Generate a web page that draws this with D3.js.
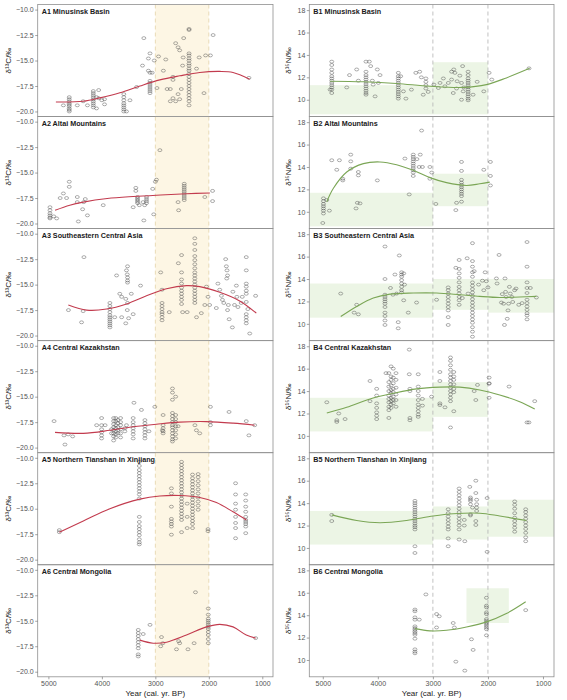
<!DOCTYPE html>
<html>
<head>
<meta charset="utf-8">
<script src="https://cdn.jsdelivr.net/npm/d3@7"></script>
<style>
  body { margin: 0; background: #fff; }
  svg { font-family: "Liberation Sans", Arial, sans-serif; }
</style>
</head>
<body>
<svg id="chart"></svg>
<script>
const width = 567, height = 700;

const regions = ["Minusinsk Basin", "Altai Mountains", "Southeastern Central Asia",
  "Central Kazakhstan", "Northern Tianshan in Xinjiang", "Central Mongolia"];
const xTicks = [5000, 4000, 3000, 2000, 1000];
const cTicks = [-20, -17.5, -15, -12.5, -10];
const nTicks = [10, 12, 14, 16, 18];
const periodBounds = [3000, 2000];

// δ13C: [year, [values at that year]]
const a1 = [[4720,[-19.4]],[4610,[-18.6,-18.8,-19.0,-19.2,-19.35,-19.5,-19.7,-19.85,-20.0]],[4460,[-19.4]],
  [4350,[-19.0]],[4270,[-19.4]],[4160,[-18.0,-18.2,-18.4,-18.6,-18.8,-19.0,-19.2,-19.4,-19.6]],[4100,[-19.7,-18.6]],
  [4060,[-17.9,-18.7]],[4000,[-18.9]],[3950,[-19.3,-18.8]],[3590,[-18.3,-18.6,-18.9,-19.2,-19.4,-19.6,-19.8,-20.0]],
  [3540,[-20.0]],[3475,[-18.9]],[3350,[-17.6]],[3240,[-15.5]],[3215,[-12.8]],[3130,[-16.0,-14.8]],
  [3100,[-14.3,-16.2,-17.0,-17.2,-17.4,-17.6,-17.8,-18.0,-18.2]],[3060,[-16.2]],[3020,[-15.0]],[2940,[-14.6]],
  [2970,[-17.7]],[2805,[-14.9]],[2850,[-16.0]],[2780,[-17.8]],[2720,[-17.8,-19.0]],[2670,[-18.7,-16.6,-16.9]],
  [2620,[-13.3,-19.0]],[2575,[-13.7,-18.3]],[2545,[-14.0,-18.8]],[2515,[-17.8]],[2490,[-15.5]],[2470,[-12.8]],
  [2480,[-14.7]],[2370,[-11.9,-12.0,-14.3,-14.5,-14.8,-15.0,-15.3,-15.5,-15.8,-16.0,-16.3,-16.6,-16.9,-17.2,-17.5,-17.8,-18.1,-18.4,-18.7,-19.0,-19.4]],
  [2230,[-15.8]],[2180,[-14.7]],[2090,[-18.2]],[2060,[-14.5]],[1970,[-14.5]],[1920,[-12.5]],[1250,[-16.7]]];
const a2 = [[4970,[-18.4,-18.7,-19.0,-19.2,-19.4,-19.5]],[4900,[-19.3]],[4845,[-19.5]],[4780,[-17.5]],[4720,[-17.05]],
  [4660,[-17.5]],[4610,[-15.9,-16.4]],[4460,[-17.4,-17.9]],[4440,[-19.8]],[4360,[-18.6]],[4340,[-17.9]],[4310,[-17.6]],
  [4270,[-19.2]],[3975,[-18.2]],[3415,[-18.4]],[3365,[-16.5,-16.8]],[3333,[-17.4,-17.55,-17.7,-17.85,-18.0]],
  [3300,[-18.2]],[3230,[-17.9]],[3215,[-19.7]],[3200,[-18.2]],[3165,[-17.4,-17.6,-17.8,-18.0]],[3050,[-16.6]],
  [3030,[-19.1]],[3000,[-15.9]],[2980,[-15.7]],[2915,[-12.8]],[2575,[-17.9]],[2565,[-18.7]],
  [2460,[-16.1,-16.3,-16.5,-16.7,-16.9,-17.1,-17.3,-17.5,-17.7]],[2075,[-17.4]],[1930,[-16.8,-17.8]]];
const a3 = [[4625,[-17.5]],[4380,[-18.7]],[4350,[-17.6]],[4335,[-12.3]],
  [3850,[-16.8,-17.1,-17.4,-17.7,-18.0,-18.2,-18.4,-18.6,-18.8,-19.0,-19.2]],[3760,[-18.2]],[3725,[-14.1]],
  [3665,[-15.9]],[3630,[-16.2,-18.2]],[3553,[-18.8,-16.4]],[3540,[-13.6]],[3525,[-14.0,-17.5]],
  [3520,[-13.2,-14.3,-14.6,-14.8,-16.8]],[3500,[-18.3]],[3450,[-15.9]],[3415,[-17.9]],[3277,[-15.1]],[2900,[-13.8]],
  [2875,[-15.5,-16.8,-17.1,-17.4,-17.7,-17.9,-18.2,-18.5]],[2740,[-17.7]],[2570,[-12.9]],
  [2510,[-12.1,-13.8,-14.5,-14.9,-15.3,-15.6,-15.9,-16.2,-16.5,-16.9]],[2490,[-17.7]],[2405,[-17.7]],
  [2262,[-10.45,-11.0,-11.6,-12.2,-12.6,-13.0,-13.4,-13.8,-14.1,-14.4,-14.7,-15.0,-15.3,-15.6,-15.9,-16.2,-16.5,-16.8]],
  [2230,[-18.2]],[2140,[-17.8]],[2075,[-17.0]],[2045,[-15.2]],[2015,[-16.2]],[1985,[-17.0]],[1860,[-17.3]],
  [1830,[-14.9]],[1796,[-15.5]],[1765,[-16.1]],[1745,[-16.5]],[1720,[-16.8]],[1685,[-12.5]],[1672,[-13.2]],
  [1660,[-13.6]],[1650,[-14.1,-17.5]],[1665,[-14.4]],[1635,[-17.0]],[1620,[-18.4]],[1560,[-19.2]],[1550,[-15.7]],
  [1520,[-17.0]],[1485,[-15.1]],[1475,[-16.2]],[1455,[-17.2]],[1395,[-16.8]],[1375,[-16.2]],
  [1300,[-12.3,-13.6,-14.9,-15.2,-15.6,-15.9,-16.7,-17.9,-18.2,-18.5,-18.8]],[1270,[-17.4]],[1235,[-19.8]],[1125,[-16.1]]];
const a4 = [[4894,[-17.4]],[4708,[-18.8]],[4690,[-19.7]],[4630,[-18.7]],[4546,[-18.9]],[4098,[-17.8]],
  [4005,[-17.1,-17.8,-18.2,-18.5,-18.8,-19.1]],[3940,[-17.8]],[3820,[-18.2,-18.6]],
  [3780,[-17.1,-17.4,-17.7,-18.0,-18.3,-18.6,-18.9,-19.3]],[3740,[-17.1,-17.4,-17.8,-18.1,-18.4,-18.7,-19.0]],
  [3700,[-17.3,-17.6,-18.0,-18.3,-18.6]],[3650,[-17.1,-17.5,-17.8,-18.2,-18.6,-19.0]],[3570,[-18.1,-18.4]],
  [3540,[-17.8]],[3415,[-17.1,-17.5,-17.8,-18.1,-18.4,-18.7,-19.1]],[3400,[-15.6]],[3260,[-16.3]],
  [3195,[-17.3,-17.6,-17.9,-18.2,-18.5,-18.8,-19.1]],[3120,[-18.4]],[3010,[-16.0]],
  [2855,[-16.8,-17.8,-18.1,-18.4,-18.6]],[2868,[-18.3]],
  [2680,[-14.2,-14.6,-15.3,-16.6,-16.9,-17.2,-17.5,-17.8,-18.0,-18.3,-18.6,-18.9,-19.2,-19.4]],
  [2620,[-15.0,-16.8,-17.2,-17.5,-17.9,-18.3,-18.7,-19.1]],[2575,[-17.9]],[2260,[-17.8]],[2232,[-18.3]],
  [2170,[-18.6]],[1970,[-16.0,-17.5,-17.8]],[1622,[-16.5]],[1300,[-17.4]],[1250,[-18.8]],[1143,[-17.8]]];
const a5 = [[4795,[-17.1,-17.3]],
  [3300,[-10.4,-10.8,-11.2,-11.5,-11.8,-12.1,-12.4,-12.7,-13.0,-13.3,-13.6,-14.0,-15.8,-16.3,-16.7,-17.0,-17.3,-17.6,-18.0,-18.3,-18.5]],
  [2700,[-13.0,-13.5,-14.8,-16.0,-16.25,-16.5,-16.75,-17.55]],
  [2510,[-10.4,-10.7,-11.0,-11.3,-11.6,-11.9,-12.2,-12.5,-12.8,-13.1,-13.4,-13.7,-14.0,-14.3,-14.6,-14.9,-15.2,-15.5,-15.8,-16.1,-17.3]],
  [2405,[-14.5,-15.8,-16.9]],
  [2305,[-11.65,-12.0,-12.3,-12.6,-12.9,-13.2,-13.5,-13.8,-14.1,-14.4,-14.7,-15.0,-15.3,-15.6,-15.9,-16.2,-16.5,-16.9]],
  [2200,[-11.6,-11.9,-12.3,-12.7,-13.1,-13.5,-13.9,-14.3,-14.7,-15.1]],[2015,[-17.0,-17.2]],
  [1500,[-12.5,-13.6,-14.5,-15.1,-15.8,-16.4,-16.9,-17.9]],
  [1310,[-13.6,-14.2,-14.8,-15.3,-15.8,-16.1,-16.3,-16.5,-16.75,-17.4]]];
const a6 = [[3320,[-15.9,-16.2,-16.5,-16.8,-17.1,-17.4,-17.7,-18.3,-18.5]],[3227,[-16.3]],[3100,[-15.4]],
  [2885,[-16.6]],[2900,[-17.5]],[2860,[-17.2]],[2605,[-17.8]],[2565,[-17.0]],[2545,[-17.2]],[2390,[-17.8]],
  [2275,[-17.2]],[2250,[-12.2]],[2010,[-13.8,-14.4,-14.8,-15.0,-15.2,-15.4,-15.6,-15.8,-16.1,-16.4,-16.8,-17.2]],
  [1125,[-16.7]]];

// δ15N: [year, [values at that year]]
const b1 = [[4867,[10.9]],[4837,[13.4,13.1,12.7,12.4,12.1,11.9,11.7,11.5,11.3,11.1,10.9,10.6]],[4565,[11.1]],
  [4515,[12.2]],[4384,[12.7]],[4354,[11.7]],[4215,[13.4,12.5,12.2,12.0,11.8,11.6,11.4,11.2,11.0,10.8,10.6,10.45]],
  [4155,[13.4]],[4130,[13.0]],[4100,[11.7]],[4085,[11.35]],[4050,[10.3]],[4010,[12.7]],[3990,[11.5]],[3960,[12.2]],
  [3628,[12.4,12.1,11.9,11.7,11.5,11.3,11.1,10.9,10.7,10.5,10.3,10.1]],[3585,[12.1]],[3535,[10.75]],[3490,[10.1]],
  [3390,[10.9]],[3310,[12.4]],[3240,[12.5]],[3210,[12.0]],[3127,[11.9,11.6,11.3,11.0]],[3175,[10.45]],[3085,[10.7]],
  [2982,[11.35]],[2900,[11.05]],[2870,[11.5]],[2810,[11.9]],[2782,[11.2]],[2720,[11.5]],[2660,[11.8,12.5]],
  [2630,[10.6]],[2620,[12.7]],[2600,[12.4]],[2570,[11.0]],[2560,[11.65]],[2510,[12.15]],[2480,[11.5,10.0]],
  [2460,[13.0]],[2450,[10.75]],[2440,[11.1]],[2360,[12.5,12.2,11.9,11.7,11.5,11.3,11.1,10.9,10.7,10.5,10.3,10.1,9.95]],
  [2270,[10.45]],[2196,[11.6]],[2075,[10.75]],[1979,[12.4]],[1930,[11.8]],[1254,[12.8]]];
const b2 = [[5000,[9.0]],[4988,[11.2,10.95,10.7,10.5,10.3,10.1,9.85]],[4927,[11.05]],[4880,[10.1]],[4837,[14.6]],
  [4746,[13.75]],[4698,[14.6]],[4637,[12.8,12.95]],[4492,[15.1,14.5,13.85]],[4396,[10.3]],[4372,[10.8]],
  [4354,[13.55,13.25]],[4324,[10.75]],[4009,[12.8]],[3508,[14.75]],[3430,[11.55]],
  [3357,[15.1,14.9,14.7,14.5,14.3,14.1,13.9,13.7,13.5,13.2]],[3290,[14.7]],[3250,[14.0]],[3230,[15.1]],
  [3205,[17.25]],[3190,[14.0]],[3054,[14.0,12.95]],[3020,[13.5]],[2946,[10.7]],[2583,[10.15]],[2570,[10.8]],
  [2480,[14.45,13.65,12.85,12.6,12.4,12.2,12.0,11.8,11.6,11.4,10.9]],[2075,[13.75]],[1955,[14.45,13.2,12.35]]];
const b3 = [[4674,[12.7]],[4430,[11.0]],[4384,[11.7]],[4354,[10.85]],
  [3870,[12.6,12.4,12.2,12.0,11.8,11.5,11.0,10.7,10.3,9.9,14.0,16.9]],[3770,[13.2]],[3725,[12.6]],[3689,[14.4]],
  [3660,[12.7]],[3630,[10.15,9.6]],[3610,[16.1]],[3568,[14.6,14.4,14.2,13.9,13.6,13.3,13.0,12.8]],
  [3530,[12.1,14.5]],[3515,[13.5]],[3447,[11.0]],[3296,[11.9]],[2933,[12.15]],
  [2722,[13.25,13.0,12.7,12.4,12.1,11.8,11.5,11.2,10.6,9.9]],[2583,[15.0]],
  [2523,[15.7,14.9,14.5,14.1,13.7,13.3,13.0,12.7,12.4,12.1,11.7]],[2465,[12.3]],[2378,[15.85]],[2360,[12.7]],
  [2281,[17.2,15.6,15.1,14.6,14.2,13.7,13.4,13.1,12.8,12.5,12.2,11.9,11.6,11.3,11.0,10.7,10.4,10.1,9.7,9.3,8.85]],
  [2250,[14.7]],[2170,[13.5]],[2100,[13.85]],[2075,[13.0]],[2051,[14.6]],[2030,[13.8]],[2000,[13.25]],
  [1846,[14.05]],[1834,[13.6]],[1798,[16.15]],[1755,[11.9]],[1740,[12.65]],[1715,[11.8]],[1700,[9.9]],
  [1690,[14.05]],[1680,[12.85]],[1670,[12.4]],[1650,[10.45]],[1635,[11.2]],[1625,[11.8]],[1610,[13.3]],
  [1595,[12.7]],[1565,[12.4]],[1550,[11.95]],[1515,[13.0]],[1490,[13.15]],[1440,[11.7]],[1380,[11.85]],
  [1290,[17.3,15.1,13.7,13.2,12.75,12.15,11.85,11.55,11.25,10.95,10.75,10.4]],[1230,[13.2]],[1120,[12.35]]];
const b4 = [[4927,[13.0]],[4746,[11.4,11.25]],[4710,[12.0]],[4595,[11.5]],[4142,[14.9,13.1]],
  [4021,[14.2,13.6,12.9,12.5,12.1,11.8,11.5]],[3852,[15.6]],[3800,[15.6,14.8,14.4,14.0,13.6,13.3,13.0,12.6,12.3,11.6]],
  [3760,[16.2,15.3,15.0,14.5,14.1,13.8,13.4,13.1,12.8,12.5]],[3720,[16.0,15.2,14.7,14.2,13.9,13.5,13.2,12.9]],
  [3670,[15.6,15.0,14.3,13.7,13.2,12.6]],[3429,[17.7,15.5]],[3417,[14.2,14.0,11.6,11.4]],
  [3266,[15.5,14.4,14.0,13.6,13.2,12.8,12.5,12.2,11.9,11.7]],[3190,[13.3,12.7]],[3024,[13.5]],
  [2873,[15.7,14.9,12.9,12.75]],[2780,[12.55]],
  [2680,[17.0,16.7,16.3,15.9,15.5,15.2,14.9,14.6,14.3,14.0,13.7,13.4,13.1,10.75]],
  [2620,[15.7,15.3,15.0,14.6,14.2,13.9,12.2]],[2250,[14.0]],[2220,[13.2]],[2190,[14.55]],
  [1979,[15.2,14.7,14.65,13.4]],[1616,[14.4]],[1290,[11.2]],[1255,[11.2]],[1150,[13.1]]];
const b5 = [[4837,[12.95,12.4]],
  [3326,[14.2,14.0,13.8,13.6,13.4,13.2,13.0,12.8,12.6,12.4,12.2,12.0,11.85,11.65,10.15,9.55]],
  [2722,[13.45,13.1,12.8,12.5,12.2,11.9,11.65,10.85,10.15]],
  [2523,[15.3,15.0,14.7,14.4,14.1,13.8,13.5,13.2,12.9,12.6,12.3,12.0,11.65,10.75]],
  [2430,[12.5,12.0]],[2420,[10.6]],[2330,[15.45]],[2317,[14.5,14.35,14.2,13.9,13.0,12.9]],[2280,[13.6]],
  [2220,[16.0,14.9,12.4,12.05]],[2205,[14.3,13.9,13.6,13.3]],[2015,[14.45,9.65]],
  [1514,[14.15,13.85,13.5,13.1,12.7,12.4,12.1,11.8,11.45]],
  [1314,[13.45,13.2,12.9,12.6,12.3,12.0,11.7,11.35,10.95,10.6]]];
const b6 = [[3326,[14.5,14.35,13.8,13.6,13.0,12.85,12.7,12.55,12.4,12.25,11.9,10.95,10.75,10.6]],[3248,[13.6]],
  [3127,[15.85]],[2933,[12.9,14.1]],[2885,[13.9]],[2631,[13.3]],[2610,[12.9]],[2583,[9.85]],[2420,[9.05]],
  [2299,[11.85]],[2269,[10.9]],[2027,[15.55,14.85,14.7,14.25,14.1,13.65,13.5,13.35,13.2,13.05,12.9,12.75,12.2]],
  [1314,[14.45]]];

// fitted trend lines: [year, value]
const a1Fit = [[4860,-19.07],[4347,-19.0],[4036,-18.67],[3663,-18.17],[3289,-17.5],[2916,-16.9],[2543,-16.5],[2170,-16.17],[1796,-16.07],[1547,-16.17],[1236,-16.83]];
const a2Fit = [[4875,-18.7],[4600,-18.2],[4347,-17.9],[3900,-17.55],[3415,-17.35],[2900,-17.2],[2418,-17.08],[1980,-17.0]];
const a3Fit = [[4627,-17.0],[4285,-17.5],[3911,-17.4],[3538,-16.9],[3165,-16.1],[2792,-15.4],[2418,-15.1],[2170,-15.2],[1796,-15.75],[1423,-16.6],[1112,-17.8]];
const a4Fit = [[4876,-18.5],[4347,-18.6],[3850,-18.3],[3414,-17.95],[2978,-17.7],[2543,-17.5],[2045,-17.45],[1547,-17.6],[1143,-17.8]];
const a5Fit = [[4795,-17.3],[4347,-16.2],[3850,-15.0],[3290,-14.06],[2916,-13.75],[2543,-13.7],[2170,-13.9],[1858,-14.4],[1547,-15.3],[1298,-16.1]];
const a6Fit = [[3290,-16.9],[3040,-17.2],[2790,-17.1],[2418,-16.4],[2045,-15.6],[1796,-15.35],[1547,-15.6],[1300,-16.4],[1125,-16.7]];
const b1Fit = [[4867,11.65],[4263,11.6],[3659,11.45],[3054,11.2],[2450,11.1],[2027,11.35],[1665,11.95],[1242,12.8]];
const b2Fit = [[4927,10.9],[4807,12.1],[4565,13.55],[4263,14.3],[3961,14.45],[3659,14.2],[3357,13.7],[3054,13.05],[2752,12.6],[2390,12.35],[2148,12.5],[1967,12.65]];
const b3Fit = [[4674,10.65],[4384,11.55],[4082,12.3],[3780,12.65],[3357,12.75],[2933,12.75],[2510,12.6],[2148,12.45],[1785,12.35],[1423,12.4],[1120,12.45]];
const b4Fit = [[4927,12.05],[4565,12.55],[4142,13.3],[3719,13.8],[3296,14.2],[2873,14.35],[2510,14.35],[2148,14.1],[1785,13.65],[1423,13.05],[1150,12.4]];
const b5Fit = [[4837,12.95],[4384,12.45],[3961,12.25],[3477,12.45],[2994,12.85],[2631,13.05],[2148,13.1],[1785,12.85],[1302,12.45]];
const b6Fit = [[3326,12.8],[3054,12.6],[2752,12.65],[2390,12.95],[2027,13.4],[1665,14.15],[1314,15.2]];

// shaded δ15N ranges: [yearFrom, yearTo, low, high]
const b1Ranges = [[5400,3000,8.7,11.3],[3000,2000,8.7,13.35]];
const b2Ranges = [[5400,3000,8.7,11.7],[3000,2000,10.5,13.4]];
const b3Ranges = [[5400,3000,10.55,13.6],[3000,2000,11.25,14.0],[2000,600,11.0,14.0]];
const b4Ranges = [[5400,3000,10.4,13.4],[3000,2000,11.7,14.8]];
const b5Ranges = [[5400,3000,10.3,13.3],[3000,2000,10.75,13.7],[2000,600,11.0,14.3]];
const b6Ranges = [[2390,1620,13.3,16.4]];

const cPoints = [a1, a2, a3, a4, a5, a6];
const nPoints = [b1, b2, b3, b4, b5, b6];
const cFits = [a1Fit, a2Fit, a3Fit, a4Fit, a5Fit, a6Fit];
const nFits = [b1Fit, b2Fit, b3Fit, b4Fit, b5Fit, b6Fit];
const nRanges = [b1Ranges, b2Ranges, b3Ranges, b4Ranges, b5Ranges, b6Ranges];

const rowTop = 4.5, rowH = 112.05;

const svg = d3.select('#chart').attr('width', width).attr('height', height);

const columns = [
  { key: 'A', x: d3.scaleLinear().domain([5200, 800]).range([37.7, 273]),
    yDomain: [-20.5, -9.5], ticks: cTicks, fmt: d3.format('.1f'),
    points: cPoints, fits: cFits, ranges: null, line: '#c23b4e',
    title: 'δ¹³C/‰', titleX: 9, labelX: 34 },
  { key: 'B', x: d3.scaleLinear().domain([5245, 800]).range([309.3, 554]),
    yDomain: [8.5, 18.5], ticks: nTicks, fmt: d3.format('d'),
    points: nPoints, fits: nFits, ranges: nRanges, line: '#7ba656',
    title: 'δ¹⁵N/‰', titleX: 289, labelX: 306 }
];

columns.forEach(col => {
  const [x0, x1] = col.x.range();
  regions.forEach((name, i) => {
    const top = rowTop + i * rowH, bottom = top + rowH;
    const y = d3.scaleLinear().domain(col.yDomain).range([bottom, top]);
    const g = svg.append('g');
    const clamp = v => Math.max(x0, Math.min(x1, v));

    if (col.key === 'A') {
      g.append('rect')
        .attr('x', col.x(periodBounds[0])).attr('y', top)
        .attr('width', col.x(periodBounds[1]) - col.x(periodBounds[0]))
        .attr('height', rowH)
        .attr('fill', '#fdf6e4');
    } else {
      g.selectAll('rect.range').data(col.ranges[i]).enter().append('rect')
        .attr('class', 'range')
        .attr('x', d => clamp(col.x(d[0])))
        .attr('width', d => clamp(col.x(d[1])) - clamp(col.x(d[0])))
        .attr('y', d => Math.max(top, y(d[3])))
        .attr('height', d => Math.min(bottom, y(d[2])) - Math.max(top, y(d[3])))
        .attr('fill', '#e6f1dc')
        .attr('fill-opacity', 0.75);
    }

    g.selectAll('line.period').data(periodBounds).enter().append('line')
      .attr('x1', d => col.x(d)).attr('x2', d => col.x(d))
      .attr('y1', top).attr('y2', bottom)
      .attr('stroke', col.key === 'A' ? '#e3d3a8' : '#b3b3b3')
      .attr('stroke-width', 0.8)
      .attr('stroke-dasharray', '4,3');

    // flatten [year, [values]] groups
    const pts = [];
    col.points[i].forEach(([yr, vals]) => vals.forEach(v => pts.push([yr, v])));

    g.selectAll('ellipse').data(pts).enter().append('ellipse')
      .attr('cx', d => col.x(d[0]))
      .attr('cy', d => y(d[1]))
      .attr('rx', 2).attr('ry', 1.45)
      .attr('fill', 'none')
      .attr('stroke', '#4a4a4a')
      .attr('stroke-width', 0.45);

    const line = d3.line()
      .x(d => col.x(d[0]))
      .y(d => y(d[1]))
      .curve(d3.curveCatmullRom.alpha(0.5));

    g.append('path')
      .datum(col.fits[i])
      .attr('d', line)
      .attr('fill', 'none')
      .attr('stroke', col.line)
      .attr('stroke-width', 1.1);

    g.append('rect')
      .attr('x', x0).attr('y', top)
      .attr('width', x1 - x0).attr('height', rowH)
      .attr('fill', 'none')
      .attr('stroke', '#8f8f8f')
      .attr('stroke-width', 0.8);

    g.append('text')
      .attr('x', x0 + 4).attr('y', top + 9)
      .attr('font-size', 7.2)
      .attr('font-weight', 'bold')
      .attr('fill', '#1a1a1a')
      .text(col.key + (i + 1) + ' ' + name);

    const yAxis = d3.axisLeft(y).tickValues(col.ticks).tickFormat(col.fmt).tickSize(2.5).tickPadding(1.5);
    const ya = g.append('g').attr('transform', `translate(${x0},0)`).call(yAxis);
    ya.select('.domain').remove();
    ya.selectAll('line').attr('stroke', '#666').attr('stroke-width', 0.6);
    ya.selectAll('text').attr('font-size', 7).attr('fill', '#555')
      .attr('font-family', '"Liberation Sans", Arial, sans-serif');

    g.append('text')
      .attr('transform', `translate(${col.titleX},${(top + bottom) / 2}) rotate(-90)`)
      .attr('text-anchor', 'middle')
      .attr('dominant-baseline', 'middle')
      .attr('font-size', 8)
      .attr('fill', '#222')
      .text(col.title);
  });

  const lastBottom = rowTop + 6 * rowH;
  const xAxis = d3.axisBottom(col.x).tickValues(xTicks).tickFormat(d3.format('d')).tickSize(2.5).tickPadding(2);
  const xa = svg.append('g').attr('transform', `translate(0,${lastBottom})`).call(xAxis);
  xa.select('.domain').remove();
  xa.selectAll('line').attr('stroke', '#666').attr('stroke-width', 0.6);
  xa.selectAll('text').attr('font-size', 7).attr('fill', '#555')
    .attr('font-family', '"Liberation Sans", Arial, sans-serif');

  svg.append('text')
    .attr('x', (x0 + x1) / 2).attr('y', lastBottom + 19.5)
    .attr('text-anchor', 'middle')
    .attr('font-size', 8)
    .attr('fill', '#222')
    .text('Year (cal. yr. BP)');
});
</script>
</body>
</html>
